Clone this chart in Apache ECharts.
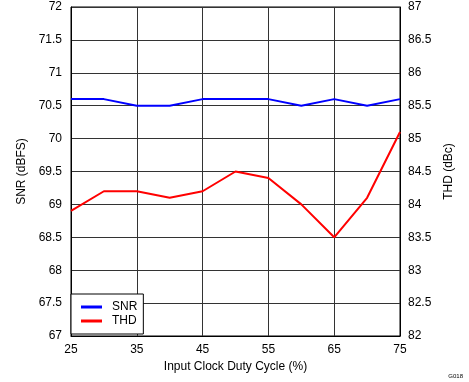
<!DOCTYPE html>
<html>
<head>
<meta charset="utf-8">
<script src="https://cdn.jsdelivr.net/npm/echarts@6/dist/echarts.min.js"></script>
<style>
html,body{margin:0;padding:0;background:#fff;}
#chart{width:469px;height:382px;}
</style>
</head>
<body>
<div id="chart"></div>
<script>
const dutyCycle = ['25','30','35','40','45','50','55','60','65','70','75'];
const snr = [70.6, 70.6, 70.5, 70.5, 70.6, 70.6, 70.6, 70.5, 70.6, 70.5, 70.6];
const thd = [83.9, 84.2, 84.2, 84.1, 84.2, 84.5, 84.4, 84.0, 83.5, 84.1, 85.1];
const seriesNames = ['SNR', 'THD'];

const font = 'Liberation Sans, Arial, sans-serif';
const chart = echarts.init(document.getElementById('chart'));
chart.setOption({
  animation: false,
  backgroundColor: '#fff',
  textStyle: { fontFamily: font },
  grid: { left: 71, right: 69, top: 7, bottom: 46, show: true, borderColor: '#000', borderWidth: 1, containLabel: false },
  legend: {
    data: seriesNames,
    orient: 'vertical',
    left: 71, top: 294,
    backgroundColor: '#fff',
    borderColor: '#000', borderWidth: 1,
    padding: [6, 6, 6, 10],
    itemGap: 0,
    itemWidth: 21, itemHeight: 3,
    icon: 'rect',
    textStyle: { fontFamily: font, fontSize: 12, color: '#000', lineHeight: 14, padding: [0, 0, 0, 5] }
  },
  xAxis: {
    type: 'category',
    data: dutyCycle,
    boundaryGap: false,
    name: 'Input Clock Duty Cycle (%)',
    nameLocation: 'middle',
    nameGap: 23,
    nameTextStyle: { fontFamily: font, fontSize: 12, color: '#000' },
    axisLine: { lineStyle: { color: '#000', width: 1 } },
    axisTick: { show: false },
    axisLabel: { interval: 1, fontFamily: font, fontSize: 12, color: '#000', margin: 8 },
    splitLine: { show: true, interval: 1, lineStyle: { color: '#333', width: 1 } }
  },
  yAxis: [
    {
      type: 'value', min: 67, max: 72, interval: 0.5,
      name: 'SNR (dBFS)', nameLocation: 'middle', nameGap: 43, nameRotate: 90,
      nameTextStyle: { fontFamily: font, fontSize: 12, color: '#000' },
      axisLine: { show: true, lineStyle: { color: '#000' } },
      axisTick: { show: false },
      axisLabel: { fontFamily: font, fontSize: 12, color: '#000', margin: 9 },
      splitLine: { show: true, lineStyle: { color: '#333', width: 1 } }
    },
    {
      type: 'value', min: 82, max: 87, interval: 0.5, position: 'right',
      name: 'THD (dBc)', nameLocation: 'middle', nameGap: 42, nameRotate: 90,
      nameTextStyle: { fontFamily: font, fontSize: 12, color: '#000' },
      axisLine: { show: true, lineStyle: { color: '#000' } },
      axisTick: { show: false },
      axisLabel: { fontFamily: font, fontSize: 12, color: '#000', margin: 8 },
      splitLine: { show: false }
    }
  ],
  series: [
    { name: 'SNR', type: 'line', data: snr, yAxisIndex: 0, showSymbol: false, symbol: 'none',
      lineStyle: { color: '#0000FF', width: 2 }, itemStyle: { color: '#0000FF' } },
    { name: 'THD', type: 'line', data: thd, yAxisIndex: 1, showSymbol: false, symbol: 'none',
      lineStyle: { color: '#FF0000', width: 2 }, itemStyle: { color: '#FF0000' } }
  ],
  graphic: [
    { type: 'text', right: 6, bottom: 3, style: { text: 'G018', fontSize: 6, fontFamily: font, fill: '#000' } }
  ]
});
</script>
</body>
</html>
